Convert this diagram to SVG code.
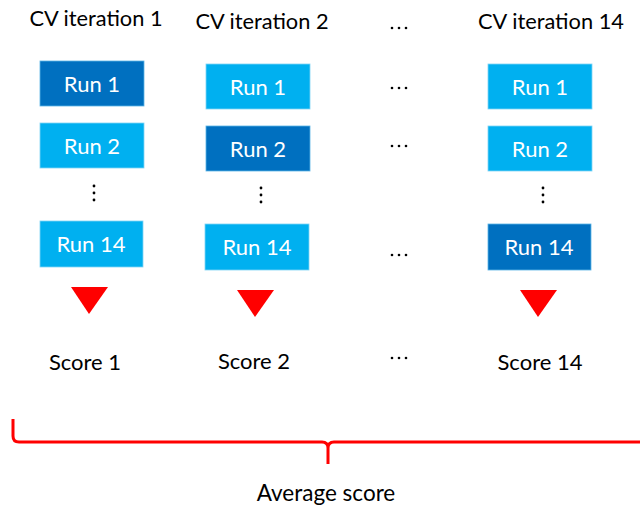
<svg xmlns="http://www.w3.org/2000/svg" width="640" height="525" viewBox="0 0 640 525">
<style>
text{font-family:Lato,"Open Sans","Liberation Sans",sans-serif;text-anchor:middle;}
.hdr{font-size:21.8px;fill:#000;}
.lbl{font-size:22px;fill:#fff;}
.score{font-size:22px;fill:#000;}
.avg{font-size:22.5px;fill:#000;}
.dark{fill:#0070C0;stroke:#5AB4E6;stroke-width:0.8;}
.light{fill:#00B0F0;stroke:#7FD4F6;stroke-width:0.8;}
.dot{fill:#000;}
.tri{fill:#FF0000;}
.brace{fill:none;stroke:#FF0000;stroke-width:3;stroke-linejoin:round;}
</style>
<defs>
<g id="hdots"><circle class="dot" cx="0" cy="0" r="1.3"/><circle class="dot" cx="7" cy="0" r="1.3"/><circle class="dot" cx="14" cy="0" r="1.3"/></g>
<g id="vdots"><circle class="dot" cx="0" cy="0" r="1.4"/><circle class="dot" cx="0" cy="7" r="1.4"/><circle class="dot" cx="0" cy="14" r="1.4"/></g>
</defs>
<rect width="640" height="525" fill="#fff"/>
<g id="headers">
<text class="hdr" x="96" y="26">CV iteration 1</text>
<text class="hdr" x="262" y="29">CV iteration 2</text>
<text class="hdr" x="551" y="29">CV iteration 14</text>
</g>
<g id="col1">
<g id="c1r1"><rect class="dark" x="40" y="61" width="104" height="45"/><text class="lbl" x="92" y="92">Run 1</text></g>
<g id="c1r2"><rect class="light" x="40" y="123" width="104" height="45"/><text class="lbl" x="92" y="154">Run 2</text></g>
<use href="#vdots" x="94" y="186"/>
<g id="c1r14"><rect class="light" x="40" y="221" width="103" height="46"/><text class="lbl" x="91" y="252">Run 14</text></g>
<g id="score1"><text class="score" x="85" y="370">Score 1</text></g>
</g>
<g id="col2">
<g id="c2r1"><rect class="light" x="206" y="64" width="104" height="45"/><text class="lbl" x="258" y="95">Run 1</text></g>
<g id="c2r2"><rect class="dark" x="206" y="126" width="104" height="45"/><text class="lbl" x="258" y="157">Run 2</text></g>
<use href="#vdots" x="261" y="188"/>
<g id="c2r14"><rect class="light" x="205" y="224" width="104" height="46"/><text class="lbl" x="257" y="255">Run 14</text></g>
<g id="score2"><text class="score" x="254" y="369">Score 2</text></g>
</g>
<g id="col3">
<g id="c3r1"><rect class="light" x="488" y="64" width="104" height="45"/><text class="lbl" x="540" y="95">Run 1</text></g>
<g id="c3r2"><rect class="light" x="488" y="126" width="104" height="45"/><text class="lbl" x="540" y="157">Run 2</text></g>
<use href="#vdots" x="543" y="188"/>
<g id="c3r14"><rect class="dark" x="488" y="224" width="103" height="46"/><text class="lbl" x="539" y="255">Run 14</text></g>
<g id="score14"><text class="score" x="540" y="370">Score 14</text></g>
</g>
<g id="ellipses">
<use href="#hdots" x="392" y="28"/>
<use href="#hdots" x="392" y="88"/>
<use href="#hdots" x="392" y="146"/>
<use href="#hdots" x="392" y="255"/>
<use href="#hdots" x="392" y="358"/>
</g>
<g id="connectors">
<polygon class="tri" points="71,287 108,287 89,314"/>
<polygon class="tri" points="237,290 274,290 255,317"/>
<polygon class="tri" points="520,290 557,290 538,317"/>
<path class="brace" d="M13,419 L13,436 Q13,442 19,442 L322,442 Q328,442 328,448 L328,464 M328,448 Q328,442 334,442 L641,442"/>
</g>
<g id="average"><text class="avg" x="326" y="501">Average score</text></g>
</svg>
